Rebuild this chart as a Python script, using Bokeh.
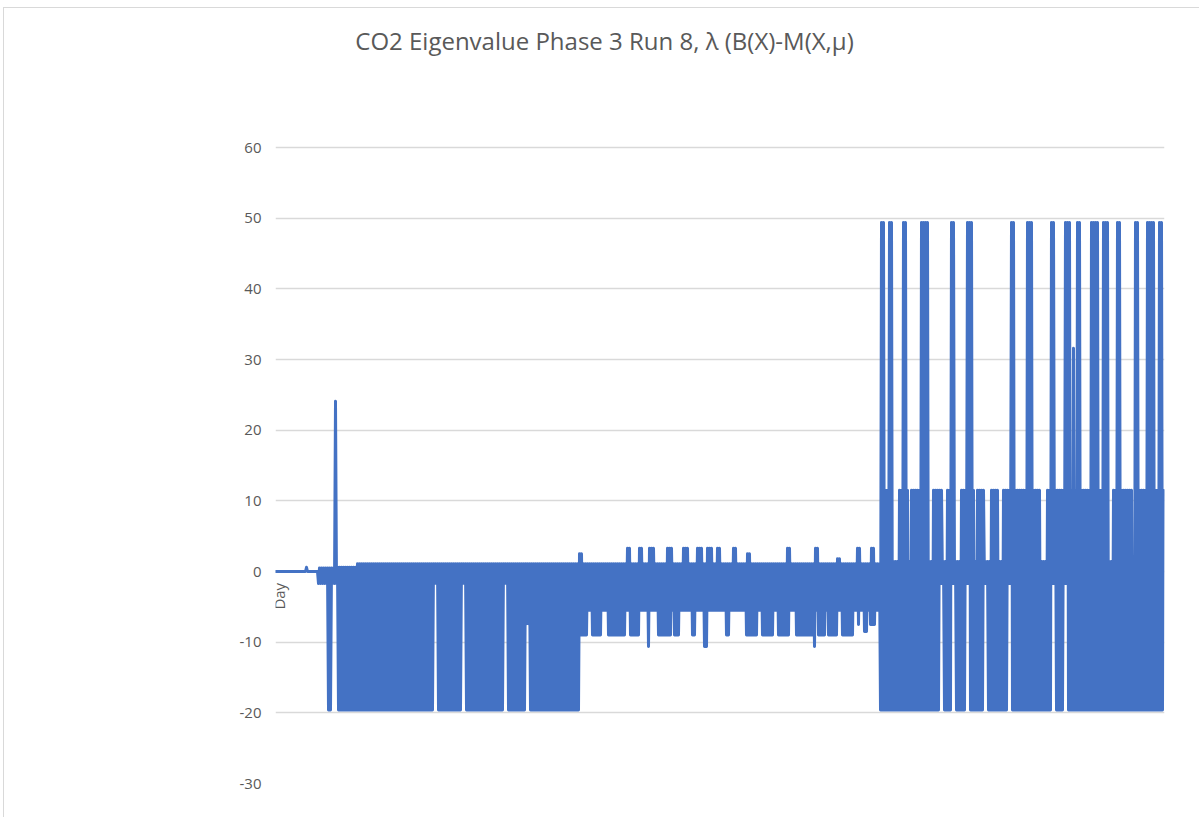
from bokeh.plotting import figure
from bokeh.models import Range1d, FixedTicker, Label
from bokeh.embed import file_html
from bokeh.resources import INLINE
from math import pi

# ---- data (x = day index, y = eigenvalue) ----
N_DAYS = 889

# base runs: the series alternates between run_high (even days) and run_low (odd days)
run_start = [0, 43, 62, 82, 304, 605]
run_end = [43, 62, 82, 304, 605, 889]
run_high = [0.0, 0.5, 0.6, 1.1, 1.1, 1.4]
run_low = [0.0, -1.7, -19.6, -19.6, -5.5, -19.6]

# deeper troughs (odd days inside [start, end))
dip_start = [305, 317, 333, 355, 372, 383, 398, 417, 428, 450, 470, 487, 502, 520, 538, 542, 553, 567, 582, 588, 595]
dip_end = [312, 327, 350, 365, 375, 397, 405, 420, 432, 455, 482, 498, 515, 538, 541, 550, 562, 578, 585, 592, 600]
dip_value = [-9.0, -9.0, -9.0, -9.0, -10.6, -9.0, -9.0, -9.0, -10.6, -9.0, -9.0, -9.0, -9.0, -9.0, -10.6,
             -9.0, -9.0, -9.0, -7.5, -8.5, -7.5]

# higher peaks (even days inside [start, end)); later entries win
top_start = [304, 351, 364, 373, 392, 408, 422, 432, 441, 457, 472, 512, 539, 561, 581, 596,
             610, 624, 636, 658, 671, 685, 702, 715, 728, 772, 837, 859,
             606, 614, 628, 646, 675, 691, 736, 752, 776, 789, 798, 802, 815, 827, 841, 860, 872, 884]
top_end = [308, 355, 368, 379, 398, 414, 428, 438, 445, 461, 476, 516, 543, 565, 585, 600,
           618, 633, 654, 667, 678, 699, 710, 724, 766, 834, 858, 889,
           610, 618, 632, 654, 679, 697, 740, 758, 780, 796, 800, 806, 823, 833, 845, 864, 879, 888]
top_value = [2.5, 3.3, 3.3, 3.3, 3.3, 3.3, 3.3, 3.3, 3.3, 3.3, 2.5, 3.3, 3.3, 1.8, 3.3, 3.3,
             11.5, 11.5, 11.5, 11.5, 11.5, 11.5, 11.5, 11.5, 11.5, 11.5, 11.5, 11.5,
             49.4, 49.4, 49.4, 49.4, 49.4, 49.4, 49.4, 49.4, 49.4, 49.4, 31.6, 49.4, 49.4, 49.4, 49.4,
             49.4, 49.4, 49.4]

# single-day values (early spikes and shallow troughs)
pt_day = [31, 53, 55, 60,
          159, 161, 187, 189, 229, 231, 251, 253,
          665, 667, 677, 679, 691, 693, 709, 711, 733, 735, 777, 779, 789, 791]
pt_value = [0.6, -19.6, -19.6, 24.1,
            -1.7, -1.7, -1.7, -1.7, -1.7, -1.7, -7.4, -7.4,
            -1.7, -1.7, -1.7, -1.7, -1.7, -1.7, -1.7, -1.7, -1.7, -1.7, -1.7, -1.7, -1.7, -1.7]

y_ticks = [-30, -20, -10, 0, 10, 20, 30, 40, 50, 60]
y_tick_labels = ["-30", "-20", "-10", "0", "10", "20", "30", "40", "50", "60"]
title_text = "CO2 Eigenvalue Phase 3 Run 8, λ (B(X)-M(X,μ)"
x_title = "Day"

# ---- assemble the series ----
days = list(range(N_DAYS))
vals = [0.0] * N_DAYS
for s, e, h, l in zip(run_start, run_end, run_high, run_low):
    for d in range(s, e):
        vals[d] = h if d % 2 == 0 else l
for s, e, v in zip(dip_start, dip_end, dip_value):
    for d in range(s, e):
        if d % 2 == 1:
            vals[d] = v
for s, e, v in zip(top_start, top_end, top_value):
    for d in range(s, e):
        if d % 2 == 0:
            vals[d] = v
for d, v in zip(pt_day, pt_value):
    vals[d] = v

GRAY = "#595959"
FONT = "Open Sans"

p = figure(width=1196, height=810, output_backend="svg", toolbar_location=None,
           x_range=Range1d(0, 889), y_range=Range1d(-30, 79.67),
           min_border_left=271, min_border_right=36, min_border_top=0, min_border_bottom=35,
           title=None)
p.outline_line_color = None
p.background_fill_color = "white"
p.border_fill_color = "white"
p.styles = {"margin-left": "3px", "margin-top": "7px",
            "border-left": "1px solid #d9d9d9", "border-top": "1px solid #d9d9d9"}

p.xaxis.visible = False
p.xgrid.visible = False

p.yaxis.ticker = FixedTicker(ticks=y_ticks)
p.yaxis.major_label_overrides = {t: s for t, s in zip(y_ticks, y_tick_labels)}
p.yaxis.axis_line_color = None
p.yaxis.major_tick_line_color = None
p.yaxis.minor_tick_line_color = None
p.yaxis.major_tick_in = 0
p.yaxis.major_tick_out = 0
p.yaxis.major_label_standoff = 14
p.yaxis.major_label_text_color = GRAY
p.yaxis.major_label_text_font = FONT
p.yaxis.major_label_text_font_size = "15px"
p.ygrid.ticker = FixedTicker(ticks=y_ticks)
p.ygrid.grid_line_color = "#d9d9d9"
p.ygrid.grid_line_width = 1.3

p.line(days, vals, line_color="#4472C4", line_width=3, line_join="round", line_cap="round")

p.add_layout(Label(x=329, y=75.2, text=title_text, text_align="center", text_baseline="middle",
                   text_font=FONT, text_font_size="24px", text_color=GRAY))
p.add_layout(Label(x=3, y=-3.5, text=x_title, angle=pi / 2, text_align="center",
                   text_baseline="middle", text_font=FONT, text_font_size="15px", text_color=GRAY))

open("out.html", "w").write(file_html(p, INLINE))
